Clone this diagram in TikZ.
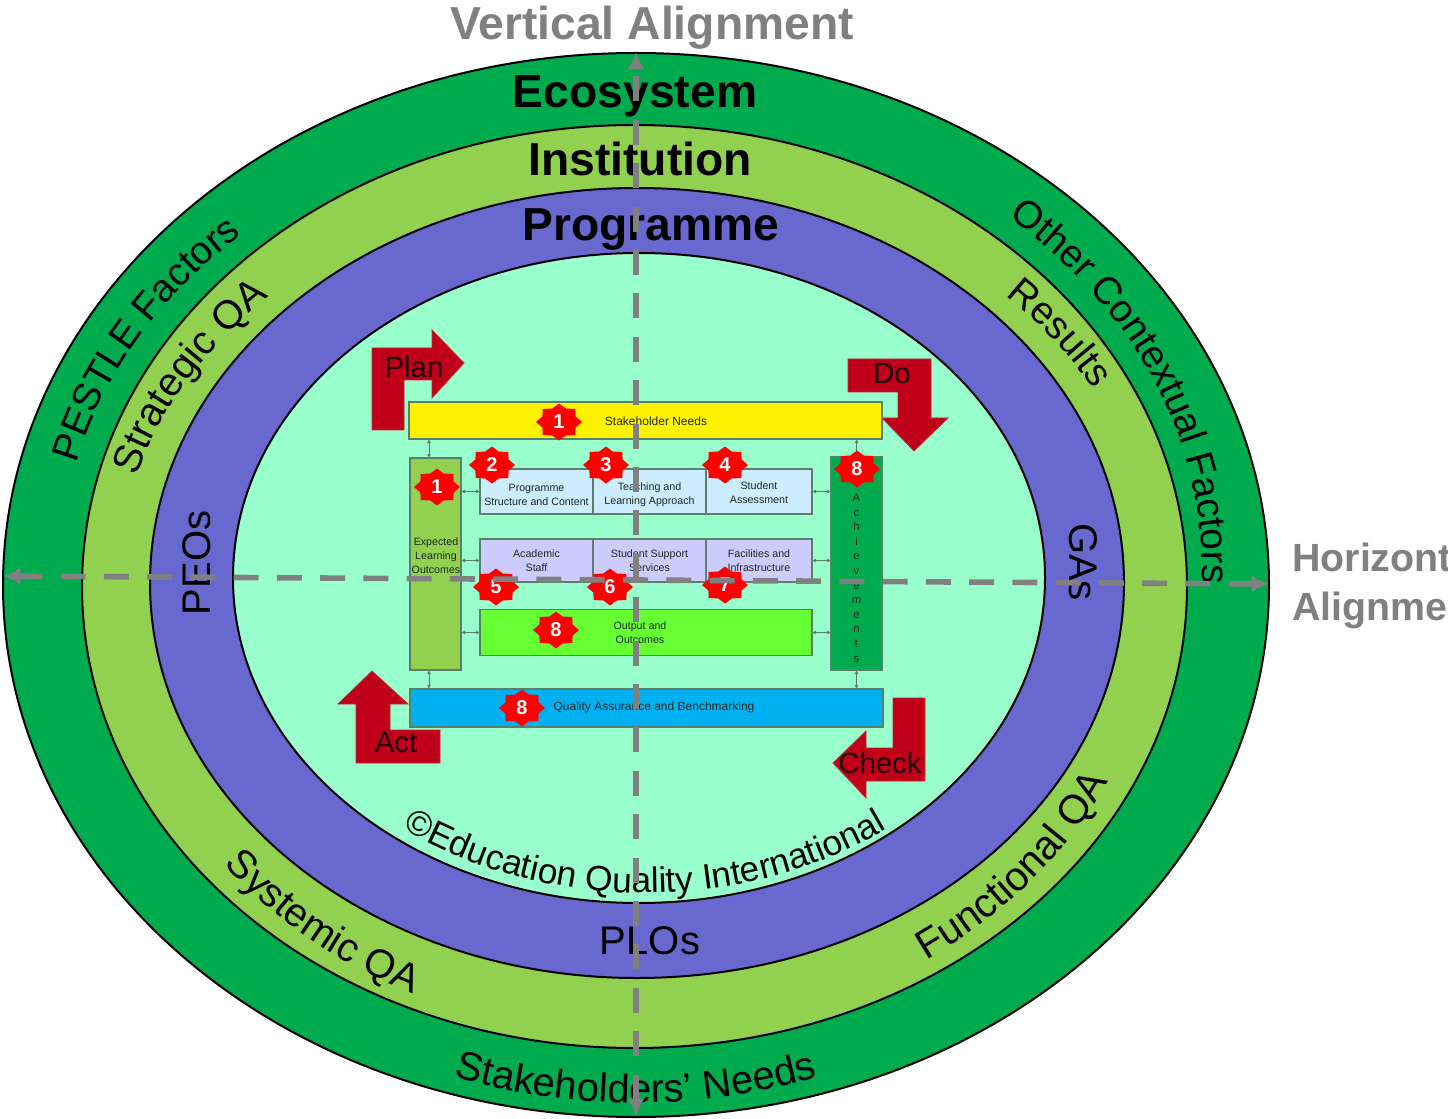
\documentclass[tikz,border=0pt]{standalone}
\usepackage{fontspec}
\setmainfont{Liberation Sans}
\usetikzlibrary{shapes.geometric,arrows.meta,decorations.text}
\definecolor{ecogreen}{HTML}{00AB4E}
\definecolor{instgreen}{HTML}{92D050}
\definecolor{progblue}{HTML}{6868CE}
\definecolor{mint}{HTML}{99FFCC}
\definecolor{arrowred}{HTML}{C00018}
\definecolor{axisgray}{HTML}{808080}
\definecolor{boxedge}{HTML}{5B7F6C}
\definecolor{paleblue}{HTML}{CCECFF}
\definecolor{lilac}{HTML}{CCCCFF}
\definecolor{limegreen}{HTML}{66FF33}
\definecolor{qablue}{HTML}{00B0F0}
\definecolor{labelink}{HTML}{1E2A22}
\def\pxu{0.75pt}
\newcommand\curvefont{\fontsize{30}{36}\selectfont}
\newcommand\curvesmall{\fontsize{29}{35}\selectfont}
\newcommand\arctext[8][\curvefont]{\path[decorate,decoration={text along path,text align=center,text={|#1|#8}}] plot[domain=#6:#7,samples=90] ({#2+#4*cos(\x)},{#3-#5*sin(\x)});}
\newcommand\badge[4]{\fill[red] plot[samples at={0,...,15}] ({#2+(mod(\x,2)==0?23:18)*cos(\x*22.5)},{#3+(mod(\x,2)==0?18.5:14.5)*sin(\x*22.5)}) -- cycle;
\node[badgetext] (#1) at (#2,#3) {#4};}
\tikzset{
  x=0.75pt,y=-0.75pt,
  ring/.style={ellipse,draw=black,line width=1.5pt,inner sep=0pt,outer sep=0pt},
  title/.style={font=\bfseries\fontsize{34.7}{40}\selectfont,text=black,inner sep=0pt},
  axistitle/.style={font=\bfseries\fontsize{34.7}{40}\selectfont,text=axisgray,inner sep=0pt},
  curved/.style={font=\curvefont,text=black,inner sep=0pt},
  bentarrow/.style={fill=arrowred,draw=arrowred!85!white,line width=0.6pt},
  arrowlabel/.style={font=\fontsize{22}{26}\selectfont,text=black!85!arrowred,inner sep=0pt},
  boxnode/.style={draw=boxedge,line width=1.2pt,inner sep=0pt,outer sep=0pt,align=center,text=labelink,font=\fontsize{8}{10.5}\selectfont},
  smalltext/.style={inner sep=0pt,align=center,text=labelink,font=\fontsize{8}{10.5}\selectfont},
  bigsmalltext/.style={inner sep=0pt,align=center,text=labelink,font=\fontsize{9}{11}\selectfont},
  badgetext/.style={inner sep=0pt,text=white,font=\bfseries\fontsize{15}{17}\selectfont},
  link/.style={draw=boxedge,line width=0.7pt,{Latex[length=3pt,width=3pt]}-{Latex[length=3pt,width=3pt]}},
  axisline/.style={draw=axisgray,line width=4.2pt,{Latex[length=13pt,width=13pt]}-{Latex[length=13pt,width=13pt]}}
}
\begin{document}
\begin{tikzpicture}
\useasboundingbox (0,0) rectangle (1448,1119);
\clip (0,0) rectangle (1448,1119);
\fill[white] (0,0) rectangle (1448,1119);
% rings
\node[ring,fill=ecogreen,minimum width=1266*\pxu,minimum height=1064*\pxu] (eco) at (636,585) {};
\node[ring,fill=instgreen,minimum width=1105*\pxu,minimum height=923*\pxu] (inst) at (634.5,586.5) {};
\node[ring,fill=progblue,minimum width=974*\pxu,minimum height=790*\pxu] (prog) at (637,583) {};
\node[ring,fill=mint,minimum width=812*\pxu,minimum height=650*\pxu] (core) at (639,578) {};
% ring titles
\node[title] (ecotitle) at (635,96) {Ecosystem};
\node[title] (insttitle) at (640,159) {Institution};
\node[title] (progtitle) at (651,229) {Programme};
\node[axistitle] (vtitle) at (652,28) {Vertical Alignment};
\node[axistitle,font=\bfseries\fontsize{29.5}{36.75}\selectfont,align=left,anchor=west] (htitle) at (1292,586) {Horizontal\\Alignment};
% curved labels
\arctext[\curvesmall]{636}{568}{575}{458}{181}{121}{PESTLE Factors}
\arctext[\curvesmall]{636}{568}{566}{466}{62.5}{-17.5}{Other Contextual Factors}
\arctext{636}{585}{518}{408}{181}{121}{Strategic QA}
\arctext[\curvesmall]{636}{585}{520}{412}{65}{5}{Results}
\arctext{636}{585}{525}{452}{189}{271}{Systemic QA}
\arctext[\fontsize{30.5}{36}\selectfont]{636}{585}{525}{450}{-81.5}{2.5}{Functional QA}
\arctext{636}{568}{590}{535}{230}{310}{Stakeholders’ Needs}
\arctext[\fontsize{26.5}{32}\selectfont]{645}{578}{400}{315}{210}{330}{©Education Quality International}
\node[curved,rotate=90] (peos) at (197,563) {PEOs};
\node[curved,rotate=-90] (gas) at (1083,562) {GAs};
\node[curved] (plos) at (650,941) {PLOs};
% PDCA arrows
\draw[bentarrow] (372,348) -- (432,348) -- (432,330) -- (464,363) -- (432,398) -- (432,380) -- (404,380) -- (404,430) -- (372,430) -- cycle;
\draw[bentarrow] (848,359) -- (931,359) -- (931,418) -- (948,418) -- (914,451) -- (882,418) -- (898,418) -- (898,392) -- (848,392) -- cycle;
\draw[bentarrow] (372,671) -- (408,704) -- (390,704) -- (390,730) -- (440,730) -- (440,763) -- (356,763) -- (356,704) -- (338,704) -- cycle;
\draw[bentarrow] (893,698) -- (925,698) -- (925,781) -- (866,781) -- (866,798) -- (833,763) -- (866,731) -- (866,748) -- (893,748) -- cycle;
\node[arrowlabel] (plan) at (414,367) {Plan};
\node[arrowlabel] (do) at (892,374) {Do};
\node[arrowlabel] (act) at (396,743) {Act};
\node[arrowlabel] (check) at (880,763) {Check};
% boxes
\node[boxnode,fill=yellow,minimum width=473*\pxu,minimum height=37*\pxu] (needs) at (645.5,420.5) {};
\node[boxnode,fill=instgreen,minimum width=51*\pxu,minimum height=212*\pxu] (elo) at (435.5,564) {};
\node[boxnode,fill=ecogreen,minimum width=51*\pxu,minimum height=213*\pxu] (ach) at (856.5,563.5) {};
\node[boxnode,fill=paleblue,minimum width=113*\pxu,minimum height=45*\pxu] (psc) at (536.5,491.5) {\rule{0pt}{10.5pt}Programme\\Structure and Content};
\node[boxnode,fill=paleblue,minimum width=113*\pxu,minimum height=45*\pxu] (tla) at (649.5,491.5) {\rule{0pt}{10.5pt}Teaching and\\Learning Approach};
\node[boxnode,fill=paleblue,minimum width=106*\pxu,minimum height=45*\pxu] (sa) at (759,491.5) {\rule{0pt}{7.5pt}Student\\Assessment};
\node[boxnode,fill=lilac,minimum width=113*\pxu,minimum height=43*\pxu] (staff) at (536.5,560.5) {Academic\\Staff};
\node[boxnode,fill=lilac,minimum width=113*\pxu,minimum height=43*\pxu] (sss) at (649.5,560.5) {Student Support\\Services};
\node[boxnode,fill=lilac,minimum width=106*\pxu,minimum height=43*\pxu] (fac) at (759,560.5) {Facilities and\\Infrastructure};
\node[boxnode,fill=limegreen,minimum width=332*\pxu,minimum height=46*\pxu] (out) at (646,632.5) {};
\node[boxnode,fill=qablue,minimum width=473*\pxu,minimum height=38*\pxu] (qa) at (646.5,708) {};
% box texts
\node[bigsmalltext] (needstext) at (656,421) {Stakeholder Needs};
\node[smalltext] (elotext) at (436,555.5) {Expected\\Learning\\Outcomes};
\node[smalltext,font=\fontsize{8.5}{10.95}\selectfont] (achtext) at (856.5,578) {A\\c\\h\\i\\e\\v\\e\\m\\e\\n\\t\\s};
\node[smalltext] (outtext) at (640,633) {Output and\\Outcomes};
\node[bigsmalltext] (qatext) at (654,707) {Quality Assurance and Benchmarking};
% links
\draw[link] ([xshift=-4.9pt]elo.north |- needs.south) -- ([xshift=-4.9pt]elo.north);
\draw[link] (needs.south -| ach.north) -- (ach.north);
\draw[link] ([xshift=-4.9pt]elo.south) -- ([xshift=-4.9pt]elo.south |- qa.north);
\draw[link] (ach.south) -- (ach.south |- qa.north);
\draw[link] (elo.east |- psc.west) -- (psc.west);
\draw[link] (elo.east |- staff.west) -- (staff.west);
\draw[link] (elo.east |- out.west) -- (out.west);
\draw[link] (sa.east) -- (sa.east -| ach.west);
\draw[link] (fac.east) -- (fac.east -| ach.west);
\draw[link] (out.east) -- (out.east -| ach.west);
% badges
\badge{ba}{559}{422}{1}
\badge{bb}{437}{487}{1}
\badge{bc}{492}{465}{2}
\badge{bd}{606}{465}{3}
\badge{be}{725}{465}{4}
\badge{bf}{857}{469}{8}
\badge{bg}{496}{587}{5}
\badge{bh}{610}{587}{6}
\badge{bi}{725}{585}{7}
\badge{bj}{556}{630}{8}
\badge{bk}{522}{708}{8}
% alignment axes
\coordinate (vtop) at (636,52);
\coordinate (vbot) at (636,1116);
\coordinate (hleft) at (3,576);
\coordinate (hright) at (1269,584);
\draw[axisline,dash pattern=on 18.75pt off 13.8pt,dash phase=26pt] (vtop) -- (vbot);
\draw[axisline,dash pattern=on 18.75pt off 13.7pt,dash phase=1pt] (hleft) -- (hright);
\end{tikzpicture}
\end{document}
